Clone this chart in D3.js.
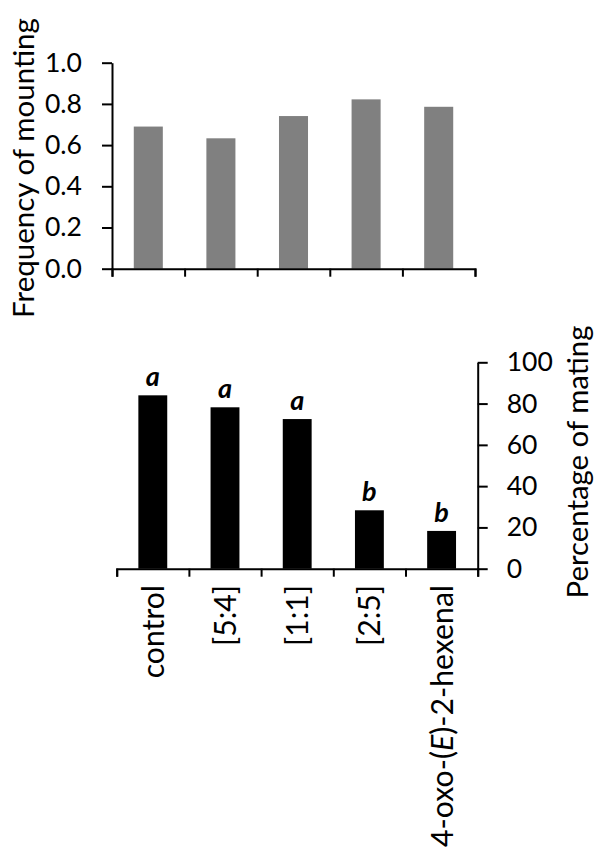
<!DOCTYPE html>
<html>
<head>
<meta charset="utf-8">
<script src="https://cdn.jsdelivr.net/npm/d3@7"></script>
<style>
  body { margin: 0; background: #fff; }
  svg text { font-family: Lato, "Open Sans", sans-serif; fill: #000; }
  .axis path, .axis line { stroke: #000; stroke-width: 2px; }
</style>
</head>
<body>
<div id="chart"></div>
<script>
// Data
const categories = ["control", "[5:4]", "[1:1]", "[2:5]", "4-oxo-(E)-2-hexenal"];
const mounting = [0.69, 0.633, 0.741, 0.822, 0.786];
const mating = [84, 78.2, 72.5, 28.3, 18.3];
const letters = ["a", "a", "a", "b", "b"];
const mountTicks = [0, 0.2, 0.4, 0.6, 0.8, 1.0];
const matingTicks = [0, 20, 40, 60, 80, 100];

const width = 600, height = 851;
const tickFont = 26.5;

let svg = d3.select("#chart").append("svg")
    .attr("width", width)
    .attr("height", height)

// scale the font of a text so that it spans the given length
function fitText(sel, targetLen) {
    let len = sel.node().getComputedTextLength()
    let size = parseFloat(sel.attr("font-size"))
    sel.attr("font-size", (size * targetLen / len) + "px")
}

// ------------ TOP CHART: frequency of mounting ------------ //
let topX = d3.scaleBand().domain(categories).range([112, 475]).paddingInner(0.6).paddingOuter(0.3)
let topY = d3.scaleLinear().domain([0, 1]).range([268.7, 62.7])
let topEdges = d3.scaleLinear().domain([0, categories.length]).range([112, 475])

let topG = svg.append("g")

topG.selectAll("rect")
    .data(mounting)
    .enter().append("rect")
    .attr("x", (d, i) => topX(categories[i]))
    .attr("width", topX.bandwidth())
    .attr("y", d => topY(d))
    .attr("height", d => topY(0) - topY(d))
    .attr("fill", "#808080")

topG.append("g")
    .attr("class", "axis")
    .attr("transform", "translate(0," + topY(0) + ")")
    .call(d3.axisBottom(topEdges).tickValues(d3.range(categories.length + 1)).tickFormat("").tickSizeOuter(0).tickSize(8))

topG.append("g")
    .attr("class", "axis")
    .attr("transform", "translate(112,0)")
    .call(d3.axisLeft(topY).tickValues(mountTicks).tickFormat(d3.format(".1f")).tickSize(10).tickSizeOuter(0).tickPadding(20))
    .call(g => g.selectAll("text").attr("font-size", tickFont + "px").style("font-family", "Lato"))

let leftTitle = svg.append("text")
    .attr("transform", "translate(34,168) rotate(-90)")
    .attr("text-anchor", "middle")
    .attr("font-size", "26px")
    .text("Frequency of mounting")
fitText(leftTitle, 300)

// ------------ BOTTOM CHART: percentage of mating ------------ //
let botX = d3.scaleBand().domain(categories).range([116.7, 477.7]).paddingInner(0.6).paddingOuter(0.3)
let botY = d3.scaleLinear().domain([0, 100]).range([568.7, 362.3])
let botEdges = d3.scaleLinear().domain([0, categories.length]).range([116.7, 477.7])

let botG = svg.append("g")

botG.selectAll("rect")
    .data(mating)
    .enter().append("rect")
    .attr("x", (d, i) => botX(categories[i]))
    .attr("width", botX.bandwidth())
    .attr("y", d => botY(d))
    .attr("height", d => botY(0) - botY(d))
    .attr("fill", "#000")

// significance letters
botG.selectAll(".sig")
    .data(mating)
    .enter().append("text")
    .attr("class", "sig")
    .attr("x", (d, i) => botX(categories[i]) + botX.bandwidth() / 2)
    .attr("y", d => botY(d) - 9)
    .attr("text-anchor", "middle")
    .attr("font-size", "27px")
    .attr("font-weight", "bold")
    .attr("font-style", "italic")
    .text((d, i) => letters[i])

botG.append("g")
    .attr("class", "axis")
    .attr("transform", "translate(0," + botY(0) + ")")
    .call(d3.axisBottom(botEdges).tickValues(d3.range(categories.length + 1)).tickFormat("").tickSizeOuter(0).tickSize(8))

botG.append("g")
    .attr("class", "axis")
    .attr("transform", "translate(477.7,0)")
    .call(d3.axisRight(botY).tickValues(matingTicks).tickSize(10).tickSizeOuter(0).tickPadding(19))
    .call(g => g.selectAll("text").attr("font-size", tickFont + "px").style("font-family", "Lato"))

let rightTitle = svg.append("text")
    .attr("transform", "translate(588,462) rotate(-90)")
    .attr("text-anchor", "middle")
    .attr("font-size", "26px")
    .text("Percentage of mating")
fitText(rightTitle, 273)

// category labels, rotated, reading bottom to top
let catLabels = botG.selectAll(".cat")
    .data(categories)
    .enter().append("text")
    .attr("class", "cat")
    .attr("transform", d => "translate(" + (botX(d) + botX.bandwidth() / 2 + 11) + ",585) rotate(-90)")
    .attr("text-anchor", "end")
    .attr("font-size", "26px")

catLabels.each(function(d) {
    let t = d3.select(this)
    if (d.indexOf("(E)") >= 0) {
        let parts = d.split("E")
        t.append("tspan").text(parts[0])
        t.append("tspan").attr("font-style", "italic").text("E")
        t.append("tspan").text(parts[1])
    } else {
        t.text(d)
    }
})

// same font size for all labels, set by the longest one
let longest = catLabels.filter(d => d === categories[categories.length - 1])
let catSize = 26 * 262 / longest.node().getComputedTextLength()
catLabels.attr("font-size", catSize + "px")
</script>
</body>
</html>
